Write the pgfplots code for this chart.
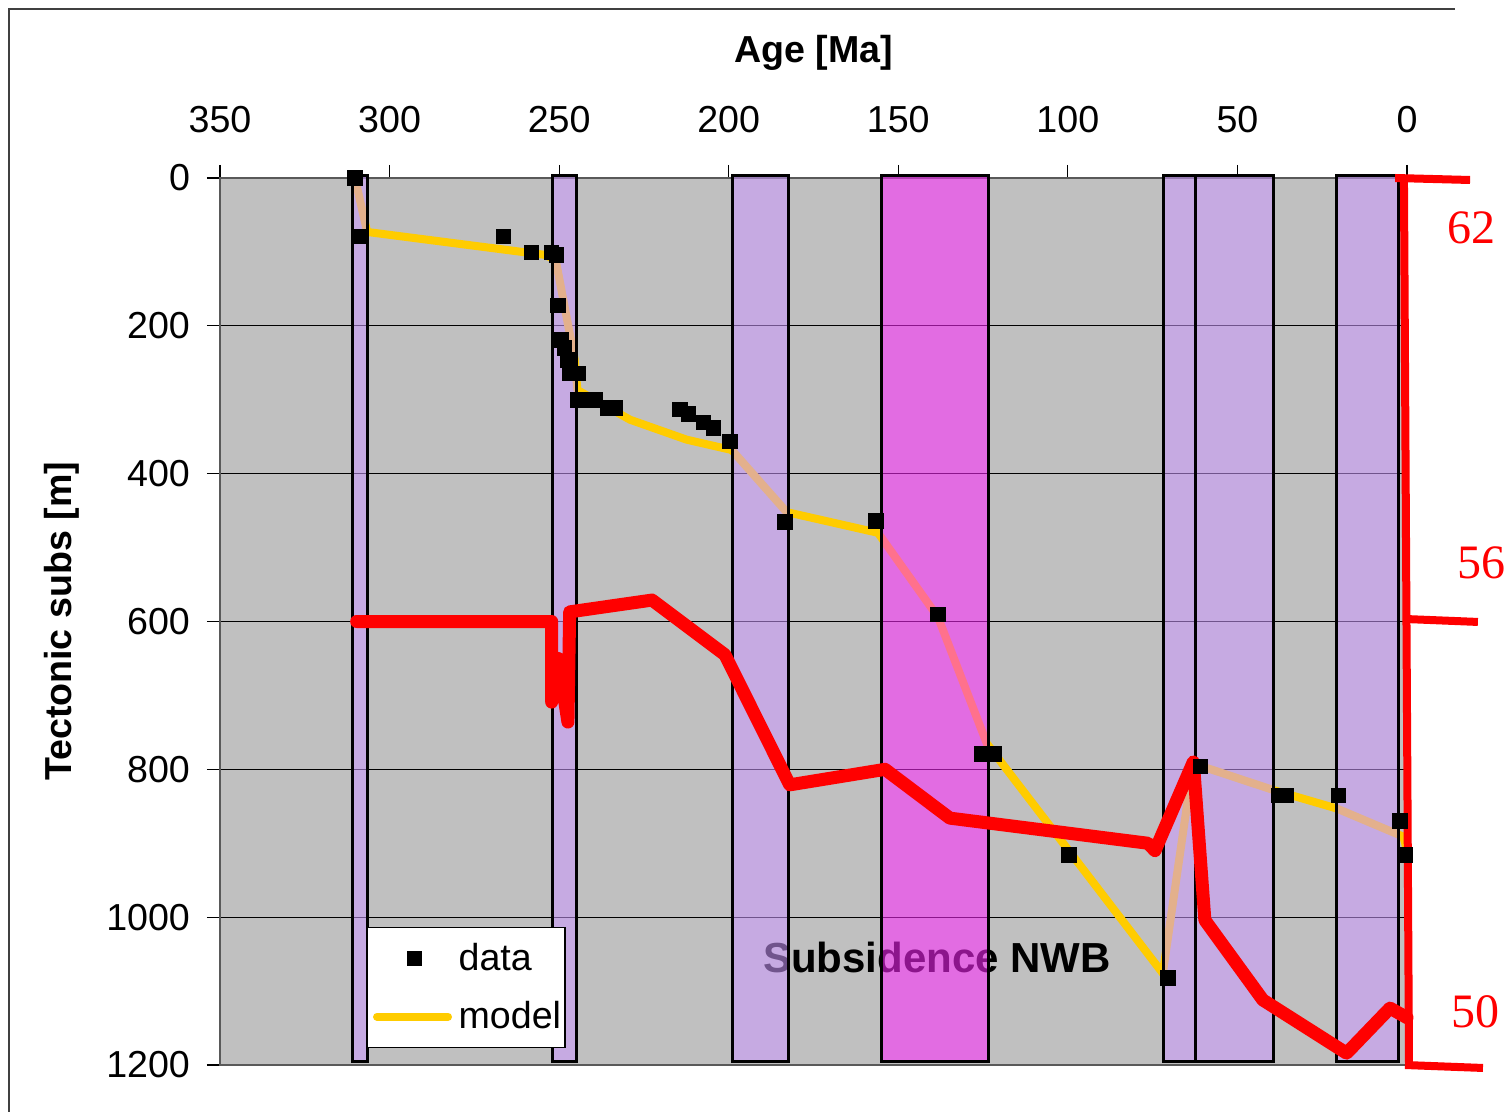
\documentclass[border=0pt]{standalone}
\usepackage{pgfplots}
\pgfplotsset{compat=1.18}
\usepackage{fontspec}
\setmainfont{Liberation Sans}
\newfontfamily\timesfont{Liberation Serif}
\definecolor{bggray}{RGB}{192,192,192}
\definecolor{modelyellow}{RGB}{255,204,0}
\definecolor{bandpurple}{RGB}{204,153,255}
\definecolor{bandmag}{RGB}{255,40,255}
\definecolor{hfred}{RGB}{255,0,0}
\newcommand{\fs}{\fontsize{18.8}{22}\selectfont}
\begin{document}
\begin{tikzpicture}
\begin{axis}[
  scale only axis, width=593.5pt, height=443.5pt,
  xmin=0, xmax=350, ymin=0, ymax=1200,
  x dir=reverse, y dir=reverse,
  axis background/.style={fill=bggray},
  xtick={0,50,...,350}, ytick={0,200,...,1200},
  xtick pos=right, xticklabel pos=right, ytick pos=left,
  tick align=outside, major tick length=6.5pt,
  tick style={black, line width=0.6pt},
  axis line style={draw=black!65, line width=0.8pt},
  ymajorgrids, major grid style={black, line width=0.6pt},
  ticklabel style={font=\fs},
  xticklabel style={yshift=12.5pt},
  yticklabel style={xshift=-5pt},
  /pgf/number format/assume math mode=true,
  /pgf/number format/1000 sep={},
  clip=false,
  legend style={at={(axis cs:306.7,1013)}, anchor=north west, fill=white, draw=black, line width=0.6pt,
    font=\fs, inner xsep=0pt, inner ysep=6pt, row sep=10pt},
  legend cell align=left,
]
% model
\addplot[modelyellow, line width=4pt, line join=round, forget plot] coordinates {
 (310.2,0) (306.6,73) (254.2,104) (251.0,111) (245.4,246) (244.6,287) (243.0,291)
 (229.1,327) (212.4,354) (199.1,368) (182.9,452) (156.0,480) (138.3,594) (123.9,765)
 (72.0,1076) (63.1,792) (39.4,828) (20.7,853) (1.1,891) (0,909)};
% data
\addplot[only marks, mark=square*, mark size=3.6pt, black, forget plot] coordinates {
 (310.2,0) (308.3,79) (266.5,79) (258.1,101) (252.2,101) (250.8,104) (250.4,172)
 (249.4,219) (248.4,230) (247.4,246) (246.8,264) (244.5,264) (244.5,300) (243.7,300)
 (239.5,300) (235.6,311) (233.6,311) (214.4,313) (211.9,319) (207.5,331) (204.6,338)
 (199.6,356) (183.4,465) (156.6,464) (138.3,590) (125.3,779) (121.8,779) (99.7,916)
 (70.5,1082) (61.0,796) (38.0,835) (35.7,835) (20.3,835) (2.1,870) (0.6,916)};
\node[font=\bfseries\fontsize{21}{24}\selectfont] at (axis cs:138.6,1055) {Subsidence NWB};
% bands
\addplot[draw=black, line width=1.5pt, fill=bandpurple, fill opacity=0.55, forget plot] coordinates {(311.0,-4) (306.4,-4) (306.4,1195) (311.0,1195)} -- cycle;
\addplot[draw=black, line width=1.5pt, fill=bandpurple, fill opacity=0.55, forget plot] coordinates {(251.9,-4) (244.9,-4) (244.9,1195) (251.9,1195)} -- cycle;
\addplot[draw=black, line width=1.5pt, fill=bandpurple, fill opacity=0.55, forget plot] coordinates {(199.0,-4) (182.5,-4) (182.5,1195) (199.0,1195)} -- cycle;
\addplot[draw=black, line width=1.5pt, fill=bandmag, fill opacity=0.55, forget plot] coordinates {(154.9,-4) (123.3,-4) (123.3,1195) (154.9,1195)} -- cycle;
\addplot[draw=black, line width=1.5pt, fill=bandpurple, fill opacity=0.55, forget plot] coordinates {(71.9,-4) (62.5,-4) (62.5,1195) (71.9,1195)} -- cycle;
\addplot[draw=black, line width=1.5pt, fill=bandpurple, fill opacity=0.55, forget plot] coordinates {(62.5,-4) (39.4,-4) (39.4,1195) (62.5,1195)} -- cycle;
\addplot[draw=black, line width=1.5pt, fill=bandpurple, fill opacity=0.55, forget plot] coordinates {(20.9,-4) (2.6,-4) (2.6,1195) (20.9,1195)} -- cycle;
% heat flow (red)
\addplot[hfred, line width=6.5pt, line join=round, line cap=round, forget plot] coordinates {
 (309.7,600) (252.2,600) (252.2,709) (250.3,650) (247.4,736) (246.9,587) (222.6,571)
 (201.1,645) (182.0,821) (153.9,800) (134.8,866) (76.4,900) (74.3,910) (63.0,790)
 (59.6,1004) (42.5,1112) (17.8,1184) (5.0,1123) (0,1136)};
% red axis
\draw[hfred, line width=4pt] (axis cs:0.9,0) -- (axis cs:-0.6,1204);
\draw[hfred, line width=4pt] (axis cs:3.5,0) -- (axis cs:-18.6,2.7);
\draw[hfred, line width=4pt] (axis cs:0.6,596.6) -- (axis cs:-20.9,600.6);
\draw[hfred, line width=4pt] (axis cs:0.6,1200) -- (axis cs:-22.4,1204);
\node[hfred, font=\timesfont\fontsize{24}{26}\selectfont] at (axis cs:-18.9,67.6) {62};
\node[hfred, font=\timesfont\fontsize{24}{26}\selectfont] at (axis cs:-22.1,520.8) {56};
\node[hfred, font=\timesfont\fontsize{24}{26}\selectfont] at (axis cs:-20.1,1128) {50};
% legend
\addlegendimage{legend image code/.code={\path (-4.5pt,0pt) (38.5pt,0pt); \fill[black] (15.25pt,-3.5pt) rectangle (22.25pt,3.5pt);}}
\addlegendentry{data}
\addlegendimage{legend image code/.code={\path (-4.5pt,0pt) (38.5pt,0pt); \draw[overlay, modelyellow, line width=4pt, line cap=round] (0pt,0pt) -- (35.5pt,0pt);}}
\addlegendentry{model}
\end{axis}
\node[font=\bfseries\fs] at ([yshift=62.5pt]current axis.north) {Age [Ma]};
\node[font=\bfseries\fs, rotate=90] at ([xshift=-79pt]current axis.west) {Tectonic subs [m]};
\draw[black!75, line width=0.8pt] (-105.5pt,-23.5pt) -- (-105.5pt,528pt) -- (617.5pt,528pt);
\pgfresetboundingbox
\useasboundingbox (-110pt,-23.5pt) rectangle (644.5pt,532.5pt);
\end{tikzpicture}
\end{document}
